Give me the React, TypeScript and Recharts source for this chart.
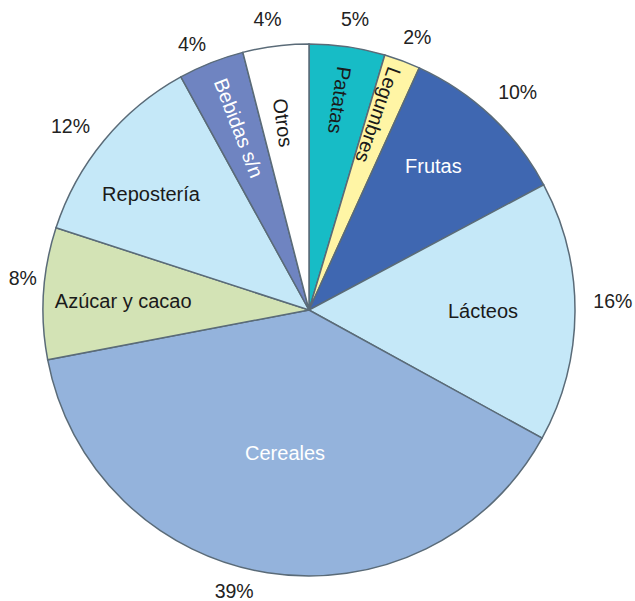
import React from "react";
import { PieChart, Pie, Cell } from "recharts";

const categories = ["Patatas", "Legumbres", "Frutas", "Lácteos", "Cereales", "Azúcar y cacao", "Repostería", "Bebidas s/n", "Otros"];
const values = [4.6, 2.2, 10.4, 15.8, 39, 8, 12, 4, 4];
const percentLabels = ["5%", "2%", "10%", "16%", "39%", "8%", "12%", "4%", "4%"];

// styling / label layout (not data)
const colors = ["#17bcc6", "#fff5a5", "#3f67b1", "#c5e8f8", "#94b3dc", "#d3e3b5", "#c5e8f8", "#6f84c1", "#ffffff"];
const textColors = ["#1a1a1a", "#1a1a1a", "#ffffff", "#1a1a1a", "#ffffff", "#1a1a1a", "#1a1a1a", "#ffffff", "#1a1a1a"];
const rotated = [true, true, false, false, false, false, false, true, true];
const nameRadius = [212, 207, 190, 174, 145, 186, 196, 195, 189];
const nameAngleShift = [0, -1, -2.3, 0, 0.5, -0.7, -3.3, 0.5, -0.7];
const pctRadius = [295, 294, 302, 304, 291, 288, 301, 291, 294];
const pctAngleShift = [0.7, 1.1, 0.5, -2, 5.9, 2.8, -2, -2.1, -0.9];

const data = categories.map((name, i) => ({ name, value: values[i] }));

const RAD = Math.PI / 180;
const FONT = "'Liberation Sans', Arial, Helvetica, sans-serif";

const renderLabel = (props: any) => {
  const { cx, cy, midAngle, index } = props;
  // shifts are clockwise in degrees; recharts angles are counter-clockwise
  const pa = midAngle - pctAngleShift[index];
  const pr = pctRadius[index];
  const px = cx + Math.cos(-pa * RAD) * pr;
  const py = cy + Math.sin(-pa * RAD) * pr;
  const na = midAngle - nameAngleShift[index];
  const nr = nameRadius[index];
  const nx = cx + Math.cos(-na * RAD) * nr;
  const ny = cy + Math.sin(-na * RAD) * nr;
  const rot = rotated[index] ? 180 - na : 0;
  return (
    <g>
      <text x={px} y={py} textAnchor="middle" dominantBaseline="central" fill="#222222" fontSize={19.5} fontFamily={FONT}>
        {percentLabels[index]}
      </text>
      <text
        x={nx}
        y={ny}
        textAnchor="middle"
        dominantBaseline="central"
        fill={textColors[index]}
        fontSize={20}
        fontFamily={FONT}
        transform={rot ? `rotate(${rot}, ${nx}, ${ny})` : undefined}
      >
        {categories[index]}
      </text>
    </g>
  );
};

export default function App() {
  return (
    <div style={{ position: "absolute", left: 0, top: 0, width: 635, height: 601, background: "#ffffff" }}>
      <PieChart width={635} height={601} margin={{ top: 0, right: 0, bottom: 0, left: 0 }}>
        <Pie
          data={data}
          dataKey="value"
          nameKey="name"
          cx={309}
          cy={310}
          outerRadius={266}
          startAngle={90}
          endAngle={-270}
          stroke="#5a6b78"
          strokeWidth={1.5}
          label={renderLabel}
          labelLine={false}
          isAnimationActive={false}
        >
          {data.map((d, i) => (
            <Cell key={d.name} fill={colors[i]} />
          ))}
        </Pie>
      </PieChart>
    </div>
  );
}
